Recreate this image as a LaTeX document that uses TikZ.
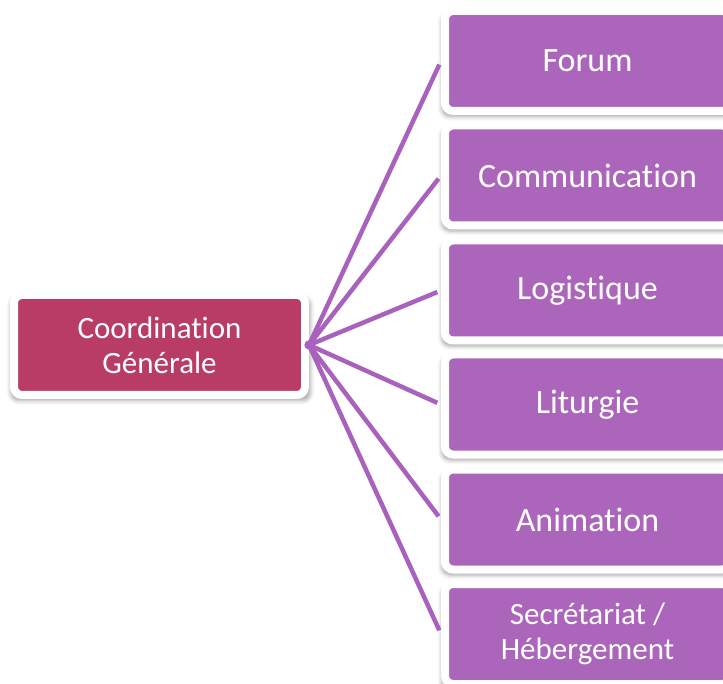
\documentclass[tikz,border=0pt]{standalone}
\usepackage{fontspec}
\setmainfont{Carlito}[RawFeature={-liga}]
\usepackage{tikz}
\usetikzlibrary{shadows.blur}

\definecolor{coordred}{RGB}{184,60,102}
\definecolor{poleviolet}{RGB}{171,102,187}
\definecolor{linkviolet}{RGB}{168,98,190}

\begin{document}
\begin{tikzpicture}[x=1pt,y=-1pt,
	box/.style={shape=rectangle,rounded corners=8pt,draw=white,line width=8pt,
		text=white,align=center,inner sep=0pt,minimum height=100pt,
		blur shadow={shadow xshift=1pt,shadow yshift=-4pt,shadow scale=1.03,shadow blur radius=4pt,shadow opacity=35},
		font=\fontsize{34}{40}\selectfont},
	coordbox/.style={box,fill=coordred,minimum width=291pt,font=\fontsize{31}{35}\selectfont},
	polebox/.style={box,fill=poleviolet,minimum width=285pt},
	twolines/.style={font=\fontsize{31}{35}\selectfont},
	link/.style={draw=linkviolet,line width=4.5pt,shorten >=4pt,shorten <=-4pt}]
	
	\clip (0,0) rectangle (723,684);
	
	\node[coordbox] (g) at (159.5, 345)     {Coordination\\Générale};
	
	\node[polebox] (fo) at (587.5, 61)     {Forum};
	\node[polebox] (co) at (587.5, 175.5)     {Communication};
	\node[polebox] (lo) at (587.5, 290.5)     {Logistique};
	\node[polebox] (li) at (587.5, 404.5)     {Liturgie};
	\node[polebox] (an) at (587.5, 519.5)     {Animation};
	\node[polebox,twolines] (se) at (587.5, 634)     {Secrétariat /\\Hébergement};
	
	\path[link] (g.east) edge (fo.west);
	\path[link] (g.east) edge (co.west);
	\path[link] (g.east) edge (lo.west);
	\path[link] (g.east) edge (li.west);
	\path[link] (g.east) edge (an.west);
	\path[link] (g.east) edge (se.west);

\end{tikzpicture}
\end{document}
